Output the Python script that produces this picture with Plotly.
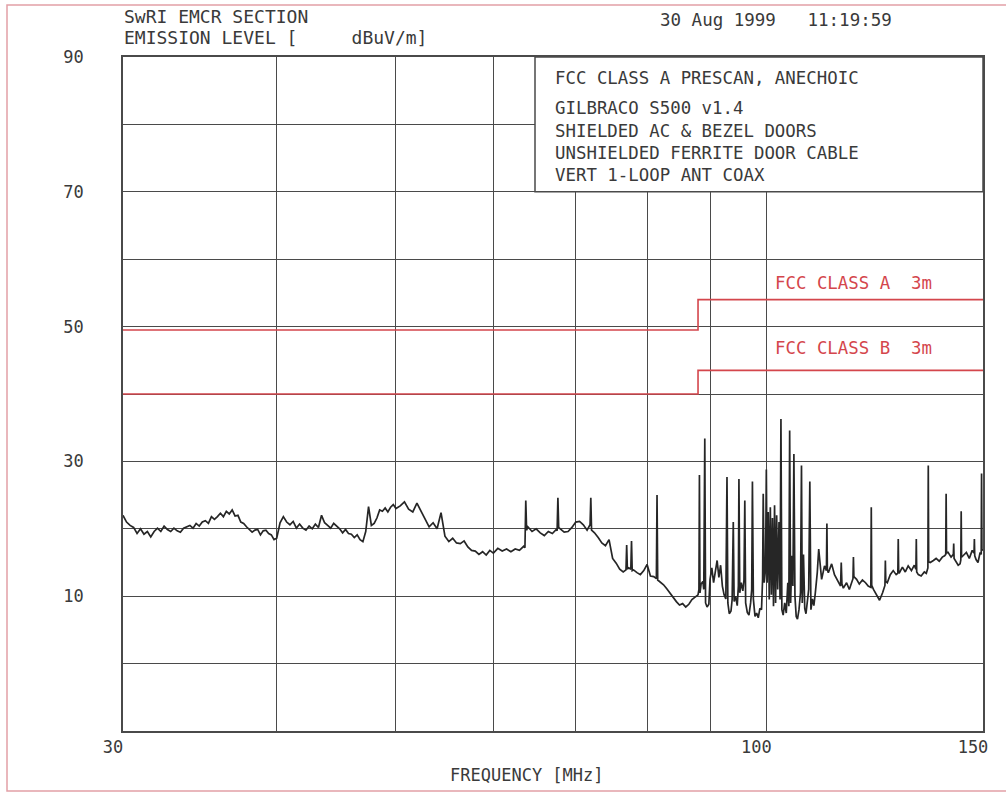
import numpy as np
import plotly.graph_objects as go

# ---------------- data ----------------
freq_a1 = [30.0, 30.2, 30.4, 30.6, 30.8, 31.0, 31.2, 31.4, 31.6, 31.8, 32.0, 32.2, 32.4, 32.6, 32.8,
           33.0, 33.2, 33.4, 33.6, 33.8, 34.0, 34.2, 34.4, 34.6, 34.8, 35.0, 35.2, 35.4, 35.6, 35.8,
           36.0, 36.2, 36.4, 36.6, 36.8, 37.0, 37.2, 37.4, 37.6, 37.8, 38.0, 38.2, 38.4, 38.6, 38.8,
           39.0, 39.2, 39.4, 39.6, 39.8, 40.0]
level_a1 = [22.0, 21.0, 20.5, 20.2, 19.3, 20.0, 19.2, 19.6, 18.8, 19.6, 20.1, 19.6, 20.4, 19.9, 19.6,
            20.1, 19.7, 19.5, 20.1, 20.3, 20.5, 20.1, 20.8, 20.4, 21.0, 21.2, 20.8, 21.8, 21.4, 21.8,
            22.3, 21.8, 22.6, 22.2, 22.8, 21.9, 22.0, 21.0, 20.8, 20.3, 19.9, 19.5, 19.8, 19.9, 19.1,
            19.7, 19.8, 19.3, 19.1, 18.4, 18.6]

freq_a2 = [40.25, 40.5, 40.75, 41.0, 41.25, 41.5, 41.75, 42.0, 42.25, 42.5, 42.75, 43.0, 43.25, 43.5,
           43.75, 44.0, 44.25, 44.5, 44.75, 45.0, 45.25, 45.5, 45.75, 46.0, 46.25, 46.5, 46.75, 47.0,
           47.25, 47.5, 47.75, 48.0, 48.25, 48.5, 48.75, 49.0, 49.25, 49.5, 49.75, 50.0]
level_a2 = [20.9, 21.8, 21.0, 20.6, 21.1, 20.1, 20.7, 20.1, 19.8, 20.4, 20.0, 20.7, 20.2, 22.0,
            20.9, 20.5, 20.1, 20.8, 20.4, 20.0, 19.4, 19.9, 19.3, 19.2, 18.7, 19.1, 18.4, 18.1,
            19.6, 23.3, 20.5, 20.8, 21.6, 22.8, 22.6, 23.1, 22.5, 23.2, 23.6, 23.0]

freq_b = [50.4, 50.8, 51.2, 51.6, 52.0, 52.4, 52.8, 53.2, 53.6, 54.0, 54.4, 54.8, 55.2, 55.6, 56.0,
          56.4, 56.8, 57.2, 57.6, 58.0, 58.4, 58.8, 59.2, 59.6, 60.0]
level_b = [23.4, 24.0, 22.9, 22.5, 23.8, 22.6, 21.3, 20.3, 20.9, 20.0, 22.4, 18.9, 18.1, 18.6, 17.9,
           17.8, 18.2, 17.3, 16.8, 16.7, 16.2, 16.6, 16.1, 16.8, 16.4]

freq_c = [60.5, 61.0, 61.5, 62.0, 62.5, 63.0, 63.5, 63.65, 63.75, 63.85, 64.0, 64.5, 65.0, 65.5, 66.0,
          66.5, 67.0, 67.5, 67.6, 67.7, 67.8, 68.0, 68.5, 69.0, 69.5, 70.0, 70.5, 71.0, 71.5, 71.9,
          72.0, 72.1, 72.5, 73.0, 73.5, 74.0, 74.5, 75.0, 75.5, 76.0, 76.5, 76.9, 77.0, 77.1, 77.3,
          77.6, 77.7, 77.8, 78.0, 78.5, 79.0, 79.5, 80.0, 80.5, 81.0, 81.4, 81.5, 81.6, 82.0, 82.5,
          83.0, 83.5, 84.0, 84.5, 85.0, 85.5, 86.0, 86.5, 87.0, 87.5, 88.0]
level_c = [17.1, 16.7, 17.0, 16.6, 17.0, 16.8, 17.4, 17.2, 24.2, 19.8, 20.3, 19.6, 20.0, 19.4, 19.0,
           19.6, 19.3, 19.9, 19.7, 24.6, 20.2, 20.0, 19.5, 19.6, 20.2, 21.0, 21.1, 20.6, 19.8, 20.6,
           24.6, 19.8, 19.4, 18.7, 17.9, 17.5, 18.4, 15.6, 14.9, 14.0, 13.6, 13.9, 17.6, 14.0, 14.2,
           14.0, 18.2, 13.8, 13.9, 13.5, 13.2, 13.8, 14.7, 13.0, 12.9, 12.6, 25.0, 12.4, 12.1, 11.7,
           11.1, 10.4, 9.8, 9.2, 8.7, 8.9, 8.4, 8.8, 9.5, 9.9, 10.2]

freq_d = [88.15, 88.23, 88.32, 88.5, 88.8, 88.95, 89.12, 89.25, 89.5, 89.8, 90.0, 90.3, 90.6, 90.9,
          91.2, 91.5, 91.8, 92.1, 92.4, 92.7, 92.9, 93.05, 93.3, 93.6, 93.8, 94.0, 94.15, 94.4, 94.7,
          94.9, 95.0, 95.15, 95.4, 95.7, 95.9, 96.05, 96.2, 96.5, 96.8, 97.1, 97.3, 97.43, 97.6, 97.9,
          98.2, 98.5, 98.8, 99.1, 99.3, 99.42, 99.6, 99.85, 100.0, 100.15, 100.35, 100.55, 100.75,
          100.95, 101.15, 101.35, 101.55, 101.75, 101.95, 102.15, 102.4, 102.6, 102.77, 102.95, 103.2,
          103.5, 103.8, 104.1, 104.3, 104.46, 104.65, 104.9, 105.1, 105.29, 105.5, 105.75, 106.0,
          106.3, 106.6, 106.8, 106.95, 107.2, 107.45, 107.7, 108.0, 108.25, 108.48, 108.7, 109.0,
          109.3, 109.6, 110.0]
level_d = [11.0, 28.0, 10.5, 11.8, 12.2, 11.0, 33.4, 9.0, 8.4, 8.8, 12.5, 14.2, 12.0, 13.5,
           15.3, 12.8, 14.6, 11.5, 10.2, 9.6, 27.7, 9.0, 7.4, 7.8, 9.5, 21.0, 9.2, 10.0, 8.6,
           11.5, 27.4, 10.5, 12.0, 10.8, 12.4, 24.2, 9.0, 7.6, 7.2, 9.0, 11.0, 27.0, 9.6, 7.0,
           7.5, 6.8, 8.2, 8.0, 12.5, 25.2, 12.0, 14.0, 28.8, 12.0, 22.5, 9.5, 23.2,
           10.2, 21.6, 8.5, 23.5, 9.0, 22.0, 11.0, 21.0, 9.5, 36.3, 8.0, 7.2,
           9.0, 7.5, 12.0, 8.5, 34.6, 9.0, 16.0, 11.5, 31.1, 10.0, 7.0, 6.6,
           8.0, 10.5, 29.4, 9.0, 16.2, 8.2, 7.4, 9.5, 11.0, 27.0, 8.0, 9.6,
           8.6, 10.5, 13.5]

freq_e = [110.3, 110.9, 111.5, 111.9, 112.0, 112.1, 112.3, 113.0, 113.6, 114.2, 114.9, 115.05, 115.2,
          115.5, 116.2, 116.8, 117.3, 117.6, 117.7, 117.8, 118.4, 119.0, 119.7, 120.4, 121.0, 121.6,
          121.7, 121.8, 122.2, 122.9, 123.6, 124.3, 124.85, 124.95, 125.05, 125.4, 126.1, 126.8,
          127.5, 127.9, 128.0, 128.1, 128.3, 129.0, 129.7, 130.4, 131.2, 131.9, 132.3, 132.4, 132.5,
          132.9, 133.6, 134.4, 134.9, 135.3, 135.4, 135.5, 135.9, 136.7, 137.4, 138.2, 139.0, 139.6,
          139.9, 140.0, 140.1, 140.5, 141.3, 141.9, 142.0, 142.1, 142.7, 143.2, 143.7, 143.9, 144.0,
          144.1, 144.5, 145.4, 146.2, 147.0, 147.5, 147.6, 147.7, 148.1, 148.6, 149.2, 149.5, 149.6,
          149.7, 150.0]
level_e = [17.0, 12.5, 14.5, 13.8, 20.8, 13.9, 13.5, 14.8, 13.2, 12.5, 11.5, 15.0, 11.8,
           11.2, 12.0, 11.0, 12.2, 12.6, 15.8, 12.9, 12.5, 11.8, 12.4, 12.0, 11.5, 11.3,
           23.2, 11.6, 11.0, 10.2, 9.4, 10.5, 11.6, 15.3, 12.2, 12.0, 13.2, 13.8,
           13.2, 13.4, 18.5, 13.6, 13.5, 14.3, 13.6, 14.5, 13.8, 14.6, 14.0, 18.5, 13.6,
           13.2, 13.0, 13.6, 13.4, 14.2, 29.4, 15.1, 15.0, 15.3, 15.6, 15.2, 15.8, 16.0,
           16.2, 25.2, 16.4, 16.5, 15.8, 16.2, 17.8, 15.6, 15.0, 14.6, 14.8, 15.4, 22.6,
           15.8, 16.0, 16.5, 15.6, 16.8, 16.4, 18.5, 16.0, 15.4, 15.0, 16.5, 16.2, 28.2,
           16.8, 17.0]

limit_freq = [30, 88, 88, 150]
class_a_limit = [49.5, 49.5, 54.0, 54.0]
class_b_limit = [40.0, 40.0, 43.5, 43.5]

NB = "\u00a0"
x_tick_vals = [30, 40, 50, 60, 70, 80, 90, 100, 150]
x_tick_text = ["30", "", "", "", "", "", "", "100", "150"]
y_tick_vals = [-10, 0, 10, 20, 30, 40, 50, 60, 70, 80, 90]
y_tick_text = ["", "", "10", "", "30", "", "50", "", "70", "", "90"]

header_lines = ["SwRI EMCR SECTION", "EMISSION LEVEL [" + NB * 5 + "dBuV/m]"]
timestamp = "30 Aug 1999" + NB * 3 + "11:19:59"
box_lines = ["FCC CLASS A PRESCAN, ANECHOIC", "GILBRACO S500 v1.4", "SHIELDED AC & BEZEL DOORS",
             "UNSHIELDED FERRITE DOOR CABLE", "VERT 1-LOOP ANT COAX"]
limit_labels = ["FCC CLASS A" + NB * 2 + "3m", "FCC CLASS B" + NB * 2 + "3m"]
x_title = "FREQUENCY [MHz]"

# ---------------- figure ----------------
freq = freq_a1 + freq_a2 + freq_b + freq_c + freq_d + freq_e
level = level_a1 + level_a2 + level_b + level_c + level_d + level_e
assert len(freq) == len(level)

FONT = "DejaVu Sans Mono"
TXT = "#3a3a3a"
GRID = "#4a4a4a"
RED = "#d4464c"

W, H = 1006, 794
L, R, T, B = 123, 23, 57, 63
pw, ph = W - L - R, H - T - B


def px(x):
    return (x - L) / pw


def py(y):
    return (H - B - y) / ph


fig = go.Figure()
fig.add_trace(go.Scatter(x=limit_freq, y=class_a_limit, mode="lines",
                         line=dict(color=RED, width=1.6), hoverinfo="skip"))
fig.add_trace(go.Scatter(x=limit_freq, y=class_b_limit, mode="lines",
                         line=dict(color=RED, width=1.6), hoverinfo="skip"))
fig.add_trace(go.Scatter(x=freq, y=level, mode="lines",
                         line=dict(color="#262626", width=1.7), hoverinfo="skip"))

fig.update_layout(
    width=W, height=H,
    margin=dict(l=L, r=R, t=T, b=B),
    paper_bgcolor="white", plot_bgcolor="white",
    showlegend=False,
    font=dict(family=FONT, size=17, color=TXT),
)
fig.update_xaxes(type="log", range=[np.log10(30), np.log10(150)],
                 tickmode="array", tickvals=x_tick_vals, ticktext=x_tick_text,
                 ticklabelshift=-10,
                 showgrid=True, gridcolor=GRID, gridwidth=1.3,
                 showline=True, mirror=True, linecolor=GRID, linewidth=1.6,
                 ticks="", zeroline=False, tickfont=dict(family=FONT, size=17, color=TXT))
fig.update_yaxes(range=[-10, 90], tickmode="array", tickvals=y_tick_vals, ticktext=y_tick_text,
                 showgrid=True, gridcolor=GRID, gridwidth=1.3,
                 showline=True, mirror=True, linecolor=GRID, linewidth=1.6,
                 ticks="", zeroline=False, ticklabelstandoff=34,
                 tickfont=dict(family=FONT, size=17, color=TXT))

# info box (opaque, covers grid)
fig.add_shape(type="rect", xref="paper", yref="paper", x0=px(535), x1=1.0, y0=0.8, y1=1.0,
              fillcolor="white", line=dict(color=GRID, width=1.5), layer="above")
# outer page frame
fig.add_shape(type="rect", xref="paper", yref="paper", x0=px(7), x1=px(1008), y0=py(791), y1=py(5),
              line=dict(color="#e2a0a6", width=1.5), layer="above")


def add_text(txt, x, y, size=17, color=TXT, anchor="left"):
    fig.add_annotation(xref="paper", yref="paper", xanchor=anchor, yanchor="middle",
                       showarrow=False, text=txt, x=px(x), y=py(y), borderpad=0,
                       font=dict(family=FONT, size=size, color=color))


add_text(header_lines[0], 123, 16.5, size=18)
add_text(header_lines[1], 123, 38, size=18)
add_text(timestamp, 659, 20, size=17.5)
for txt, yy in zip(box_lines, [78, 108, 131, 153, 175]):
    add_text(txt, 554, yy, size=17.4)
for txt, yy in zip(limit_labels, [283, 348]):
    add_text(txt, 774, yy, size=17.4, color=RED)
add_text(x_title, 527, 775, anchor="center")

fig.write_html("out.html", config={"responsive": False})
